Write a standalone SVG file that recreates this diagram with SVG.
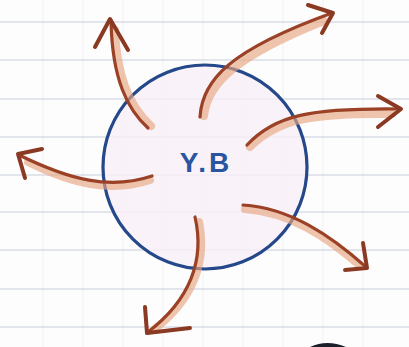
<svg xmlns="http://www.w3.org/2000/svg" width="409" height="347" viewBox="0 0 409 347">
<defs>
<style>
.grid{stroke:#c9ced9;stroke-width:1.2}
.vgrid{stroke:#f0f1f5;stroke-width:1}
.shade{fill:none;stroke:#e6a680;stroke-width:8;stroke-linecap:round;opacity:0.65}
.ink{fill:none;stroke:#9a4126;stroke-width:3.2;stroke-linecap:round;stroke-linejoin:round}
.head{fill:none;stroke:#8a3a22;stroke-width:4;stroke-linecap:round;stroke-linejoin:round}
.label{font-family:"Liberation Sans",Arial,sans-serif;font-weight:bold;font-size:28px;fill:#2a55a0}
</style>
</defs>
<rect width="409" height="347" fill="#fdfdfe"/>
<g id="paper">
<line class="vgrid" x1="43" y1="0" x2="43" y2="347"/>
<line class="vgrid" x1="83" y1="0" x2="83" y2="347"/>
<line class="vgrid" x1="123" y1="0" x2="123" y2="347"/>
<line class="vgrid" x1="163" y1="0" x2="163" y2="347"/>
<line class="vgrid" x1="203" y1="0" x2="203" y2="347"/>
<line class="vgrid" x1="243" y1="0" x2="243" y2="347"/>
<line class="vgrid" x1="283" y1="0" x2="283" y2="347"/>
<line class="vgrid" x1="323" y1="0" x2="323" y2="347"/>
<line class="vgrid" x1="363" y1="0" x2="363" y2="347"/>
<line class="grid" x1="0" y1="22" x2="409" y2="22"/>
<line class="grid" x1="0" y1="60" x2="409" y2="60"/>
<line class="grid" x1="0" y1="99" x2="409" y2="99"/>
<line class="grid" x1="0" y1="137" x2="409" y2="137"/>
<line class="grid" x1="0" y1="175" x2="409" y2="175"/>
<line class="grid" x1="0" y1="212" x2="409" y2="212"/>
<line class="grid" x1="0" y1="250" x2="409" y2="250"/>
<line class="grid" x1="0" y1="289" x2="409" y2="289"/>
<line class="grid" x1="0" y1="327" x2="409" y2="327"/>
<path d="M310,347 Q327,339 346,347 Z" fill="#1b1f2a"/>
</g>
<g id="node-yb">
<circle cx="205" cy="167" r="102" fill="#f8eff7" fill-opacity="0.8" stroke="#24488a" stroke-width="3.2"/>
<text class="label" x="206" y="172" text-anchor="middle" letter-spacing="3">Y.B</text>
</g>
<g id="connectors">
<path class="shade" d="M151,126 C132,109 117,81 115,30"/>
<path class="shade" d="M204,116 C207,84 236,56 324,21"/>
<path class="shade" d="M250,147 C278,119 312,113 392,114"/>
<path class="shade" d="M150,180 C110,193 72,184 28,162"/>
<path class="shade" d="M245,209 C290,212 328,238 358,264"/>
<path class="shade" d="M199,222 C207,262 193,299 156,328"/>
<path class="ink" d="M148,128 C128,110 112,80 111,20"/>
<path class="head" d="M95,47 L110,19 L128,50"/>
<path class="ink" d="M200,117 C202,80 230,50 332,13"/>
<path class="head" d="M308,5 L333,13 L322,33"/>
<path class="ink" d="M247,145 C275,115 310,108 400,109"/>
<path class="head" d="M378,96 L401,109 L378,127"/>
<path class="ink" d="M152,176 C110,190 70,180 19,155"/>
<path class="head" d="M42,149 L18,154 L25,178"/>
<path class="ink" d="M243,205 C290,208 330,235 366,267"/>
<path class="head" d="M363,243 L367,268 L345,270"/>
<path class="ink" d="M195,217 C205,260 190,300 148,332"/>
<path class="head" d="M145,307 L147,333 L190,328"/>
</g>
</svg>
